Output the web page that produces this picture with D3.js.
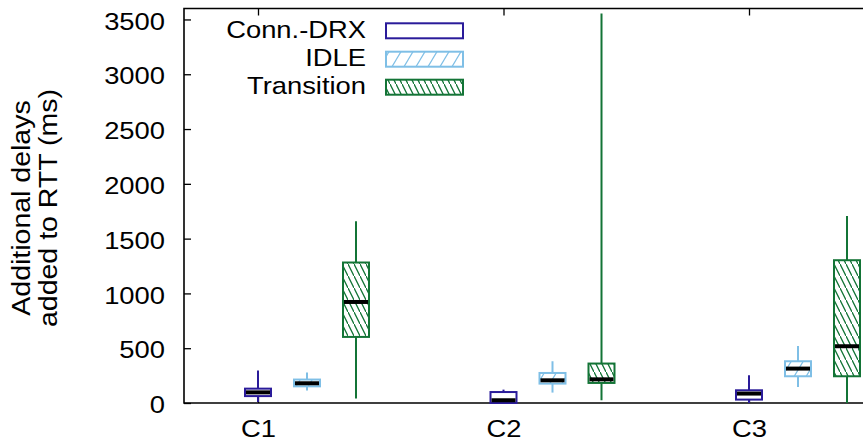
<!DOCTYPE html>
<html>
<head>
<meta charset="utf-8">
<script src="https://cdn.jsdelivr.net/npm/d3@7"></script>
<style>
  body { margin: 0; background: #fff; }
  text { font-family: "Liberation Sans", Arial, sans-serif; fill: #000; }
</style>
</head>
<body>
<div id="chart"></div>
<script>
// categories and series
var categories = ["C1", "C2", "C3"];
var seriesNames = ["Conn.-DRX", "IDLE", "Transition"];
var yTicks = [0, 500, 1000, 1500, 2000, 2500, 3000, 3500];

// [min, q1, median, q3, max] per category
var connDrx    = [[10, 63, 97, 131, 297], [0, 0, 25, 100, 122], [0, 31, 86, 116, 253]];
var idle       = [[113, 152, 180, 214, 278], [95, 177, 207, 274, 381], [146, 244, 314, 381, 520]];
var transition = [[40, 603, 922, 1282, 1659], [25, 183, 216, 360, 3555], [0, 244, 518, 1303, 1707]];

var colors = {"Conn.-DRX": "#2a1b9a", "IDLE": "#7fbfe6", "Transition": "#137436"};
var patterns = {"Conn.-DRX": null, "IDLE": "url(#sparse)", "Transition": "url(#dense)"};
var allSeries = [connDrx, idle, transition];

var width = 863, height = 444;
var sx = 1.14, fs = 24;

var svg = d3.select("#chart")
  .append("svg")
    .attr("width", width)
    .attr("height", height);

// hatch patterns
var defs = svg.append("defs");
defs.append("pattern")
    .attr("id", "sparse")
    .attr("patternUnits", "userSpaceOnUse")
    .attr("width", 12).attr("height", 20)
  .append("path")
    .attr("d", "M0,20L12,0M-1,2L1,-2M11,22L13,18")
    .attr("stroke", colors["IDLE"])
    .attr("stroke-width", 1.2);
defs.append("pattern")
    .attr("id", "dense")
    .attr("patternUnits", "userSpaceOnUse")
    .attr("width", 6).attr("height", 12)
  .append("path")
    .attr("d", "M0,0L6,12M-1,-2L1,2M5,10L7,14")
    .attr("stroke", colors["Transition"])
    .attr("stroke-width", 1.3);

var y = d3.scaleLinear()
  .domain([0, 3600])
  .range([403, 8.5]);

var x = d3.scalePoint()
  .domain(categories)
  .range([258, 749]);

var offset = d3.scalePoint()
  .domain(seriesNames)
  .range([0, 98]);

var left = 184, right = 870;
var boxW = 26;

// axes
var yAxis = svg.append("g")
    .attr("transform", "translate(" + left + ",0)")
    .call(d3.axisLeft(y).tickValues(yTicks).tickFormat(d3.format("d"))
      .tickSizeInner(-7).tickSizeOuter(0).tickPadding(19));
yAxis.select(".domain").remove();
yAxis.selectAll("line").attr("stroke", "#000").attr("stroke-width", 1.3);
yAxis.selectAll("text")
    .attr("x", null)
    .attr("dy", "0.4em")
    .attr("font-size", fs)
    .attr("font-family", "Liberation Sans, Arial, sans-serif")
    .attr("transform", "translate(-19,0) scale(" + sx + ",1)");

var xAxis = svg.append("g")
    .attr("transform", "translate(0," + y(0) + ")")
    .call(d3.axisBottom(x).tickSizeInner(-7).tickSizeOuter(0));
xAxis.select(".domain").remove();
xAxis.selectAll("line").attr("stroke", "#000").attr("stroke-width", 1.3);
xAxis.selectAll("text")
    .attr("y", null)
    .attr("dy", "0.71em")
    .attr("font-size", fs)
    .attr("font-family", "Liberation Sans, Arial, sans-serif")
    .attr("transform", "translate(0,16.5) scale(" + sx + ",1)");

var xTop = svg.append("g")
    .attr("transform", "translate(0," + y(3600) + ")")
    .call(d3.axisTop(x).tickSizeInner(-7).tickSizeOuter(0).tickFormat(""));
xTop.select(".domain").remove();
xTop.selectAll("line").attr("stroke", "#000").attr("stroke-width", 1.3);

// frame
svg.append("path")
    .attr("d", "M" + right + "," + y(3600) + "H" + left + "V" + y(0) + "H" + right)
    .attr("fill", "none")
    .attr("stroke", "#000")
    .attr("stroke-width", 1.6);

// boxes
seriesNames.forEach(function(name, si) {
  var g = svg.append("g");
  var data = allSeries[si].map(function(d, i) { return {cat: categories[i], v: d}; });
  var cx = function(d) { return x(d.cat) + offset(name); };

  g.selectAll(".whisker")
    .data(data)
    .enter()
    .append("line")
      .attr("x1", cx).attr("x2", cx)
      .attr("y1", function(d) { return y(d.v[0]); })
      .attr("y2", function(d) { return y(d.v[4]); })
      .attr("stroke", colors[name])
      .attr("stroke-width", 2);

  g.selectAll(".bg")
    .data(data)
    .enter()
    .append("rect")
      .attr("x", function(d) { return cx(d) - boxW / 2; })
      .attr("y", function(d) { return y(d.v[3]); })
      .attr("width", boxW)
      .attr("height", function(d) { return y(d.v[1]) - y(d.v[3]); })
      .attr("fill", "#fff");

  if (patterns[name]) {
    g.selectAll(".pat")
      .data(data)
      .enter()
      .append("rect")
        .attr("x", function(d) { return cx(d) - boxW / 2; })
        .attr("y", function(d) { return y(d.v[3]); })
        .attr("width", boxW)
        .attr("height", function(d) { return y(d.v[1]) - y(d.v[3]); })
        .attr("fill", patterns[name]);
  }

  g.selectAll(".box")
    .data(data)
    .enter()
    .append("rect")
      .attr("x", function(d) { return cx(d) - boxW / 2; })
      .attr("y", function(d) { return y(d.v[3]); })
      .attr("width", boxW)
      .attr("height", function(d) { return y(d.v[1]) - y(d.v[3]); })
      .attr("fill", "none")
      .attr("stroke", colors[name])
      .attr("stroke-width", 2);

  g.selectAll(".median")
    .data(data)
    .enter()
    .append("line")
      .attr("x1", function(d) { return cx(d) - boxW / 2 + 1; })
      .attr("x2", function(d) { return cx(d) + boxW / 2 - 1; })
      .attr("y1", function(d) { return y(d.v[2]); })
      .attr("y2", function(d) { return y(d.v[2]); })
      .attr("stroke", "#000")
      .attr("stroke-width", 4);
});

// legend
var legend = svg.append("g");
var legRows = [30.8, 59.2, 87.2];
seriesNames.forEach(function(name, i) {
  legend.append("text")
    .attr("text-anchor", "end")
    .attr("font-size", fs)
    .attr("transform", "translate(366," + (legRows[i] + 7.2) + ") scale(" + sx + ",1)")
    .text(name);
  legend.append("rect")
    .attr("x", 386).attr("y", legRows[i] - 7.5)
    .attr("width", 77).attr("height", 15)
    .attr("fill", "#fff");
  if (patterns[name]) {
    legend.append("rect")
      .attr("x", 386).attr("y", legRows[i] - 7.5)
      .attr("width", 77).attr("height", 15)
      .attr("fill", patterns[name]);
  }
  legend.append("rect")
    .attr("x", 386).attr("y", legRows[i] - 7.5)
    .attr("width", 77).attr("height", 15)
    .attr("fill", "none")
    .attr("stroke", colors[name])
    .attr("stroke-width", 2);
});

// y axis label
var yLabel = ["Additional delays", "added to RTT (ms)"];
svg.selectAll(".ylab")
  .data(yLabel)
  .enter()
  .append("text")
    .attr("text-anchor", "middle")
    .attr("font-size", 25)
    .attr("transform", function(d, i) {
      return "translate(" + (30 + i * 27) + ",208) rotate(-90) scale(" + sx + ",1)";
    })
    .text(function(d) { return d; });
</script>
</body>
</html>
